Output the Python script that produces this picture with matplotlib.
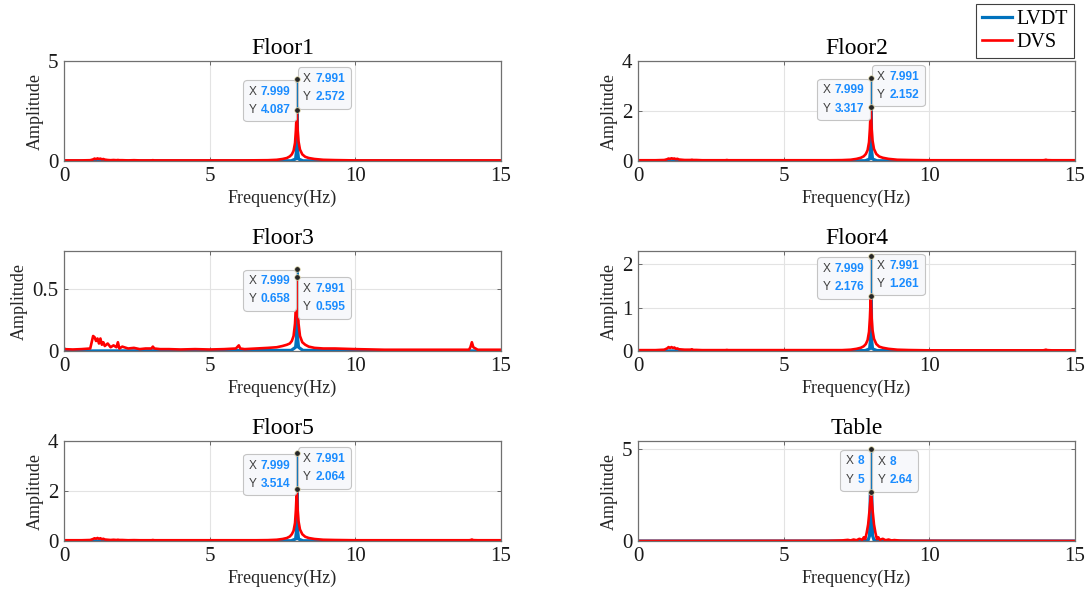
import matplotlib.pyplot as plt
from matplotlib.offsetbox import TextArea, HPacker, VPacker, AnnotationBbox

plt.rcParams['font.family'] = ['Liberation Serif', 'DejaVu Serif']

titles = ['Floor1', 'Floor2', 'Floor3', 'Floor4', 'Floor5', 'Table']
y_top = [5, 4, 0.8, 2.3, 4, 5.43]
y_ticks = [[0, 5], [0, 2, 4], [0, 0.5], [0, 1, 2], [0, 2, 4], [0, 5]]

# DVS spectra of the floors, shared frequency points
dvs_freq = [0.0, 0.3, 0.6, 0.9, 1.0, 1.05, 1.1, 1.15, 1.2, 1.25,
            1.3, 1.35, 1.4, 1.5, 1.6, 1.7, 1.8, 1.85, 1.9, 2.0,
            2.2, 2.4, 2.6, 2.8, 3.0, 3.05, 3.1, 3.3, 3.6, 4.0,
            4.5, 5.0, 5.5, 5.9, 6.0, 6.05, 6.2, 6.6, 7.0, 7.3,
            7.5, 7.65, 7.75, 7.82, 7.88, 7.93, 7.96, 7.991, 8.02, 8.05,
            8.1, 8.18, 8.28, 8.4, 8.6, 8.9, 9.3, 10.0, 11.0, 12.0,
            13.0, 13.9, 13.95, 14.0, 14.05, 14.2, 15.0]

floor1_dvs = [0.03, 0.03, 0.03, 0.04, 0.08, 0.12, 0.09, 0.13, 0.10, 0.12,
              0.08, 0.10, 0.07, 0.05, 0.04, 0.05, 0.04, 0.05, 0.04, 0.04,
              0.03, 0.04, 0.03, 0.03, 0.03, 0.04, 0.03, 0.03, 0.03, 0.03,
              0.03, 0.03, 0.03, 0.03, 0.03, 0.03, 0.03, 0.035, 0.04, 0.06,
              0.10, 0.15, 0.23, 0.33, 0.51, 0.90, 1.54, 2.572, 1.54, 0.98,
              0.57, 0.33, 0.21, 0.15, 0.10, 0.06, 0.045, 0.03, 0.03, 0.03,
              0.03, 0.03, 0.03, 0.03, 0.03, 0.03, 0.03]
floor2_dvs = [0.03, 0.03, 0.03, 0.04, 0.07, 0.10, 0.08, 0.11, 0.09, 0.10,
              0.07, 0.09, 0.06, 0.05, 0.04, 0.04, 0.04, 0.05, 0.04, 0.04,
              0.03, 0.03, 0.03, 0.03, 0.03, 0.04, 0.03, 0.03, 0.03, 0.03,
              0.03, 0.03, 0.03, 0.03, 0.03, 0.03, 0.03, 0.03, 0.035, 0.05,
              0.085, 0.13, 0.19, 0.28, 0.43, 0.75, 1.29, 2.152, 1.29, 0.82,
              0.48, 0.28, 0.18, 0.13, 0.085, 0.05, 0.04, 0.03, 0.03, 0.03,
              0.03, 0.03, 0.035, 0.05, 0.035, 0.03, 0.03]
floor3_dvs = [0.015, 0.012, 0.015, 0.02, 0.12, 0.11, 0.08, 0.10, 0.06, 0.10,
              0.05, 0.07, 0.04, 0.06, 0.03, 0.045, 0.03, 0.07, 0.02, 0.035,
              0.02, 0.025, 0.015, 0.02, 0.02, 0.035, 0.02, 0.015, 0.015, 0.012,
              0.015, 0.012, 0.015, 0.02, 0.045, 0.02, 0.015, 0.02, 0.025, 0.03,
              0.04, 0.05, 0.06, 0.08, 0.12, 0.22, 0.36, 0.595, 0.35, 0.22,
              0.12, 0.07, 0.05, 0.035, 0.025, 0.02, 0.02, 0.015, 0.01, 0.01,
              0.01, 0.01, 0.03, 0.07, 0.03, 0.01, 0.01]
floor4_dvs = [0.02, 0.02, 0.02, 0.03, 0.06, 0.09, 0.07, 0.09, 0.07, 0.08,
              0.05, 0.06, 0.04, 0.035, 0.03, 0.03, 0.03, 0.04, 0.025, 0.025,
              0.02, 0.02, 0.02, 0.02, 0.02, 0.025, 0.02, 0.02, 0.02, 0.02,
              0.02, 0.02, 0.02, 0.02, 0.02, 0.02, 0.02, 0.02, 0.02, 0.03,
              0.05, 0.075, 0.11, 0.16, 0.25, 0.44, 0.76, 1.261, 0.76, 0.48,
              0.28, 0.16, 0.10, 0.075, 0.05, 0.03, 0.022, 0.015, 0.015, 0.015,
              0.015, 0.015, 0.02, 0.03, 0.02, 0.015, 0.015]
floor5_dvs = [0.03, 0.03, 0.03, 0.04, 0.08, 0.11, 0.09, 0.12, 0.09, 0.11,
              0.07, 0.09, 0.06, 0.05, 0.04, 0.05, 0.04, 0.05, 0.04, 0.04,
              0.03, 0.035, 0.03, 0.03, 0.03, 0.04, 0.03, 0.03, 0.03, 0.03,
              0.03, 0.03, 0.03, 0.03, 0.03, 0.03, 0.03, 0.03, 0.035, 0.05,
              0.08, 0.12, 0.18, 0.27, 0.41, 0.72, 1.24, 2.064, 1.24, 0.79,
              0.46, 0.27, 0.17, 0.12, 0.08, 0.05, 0.04, 0.03, 0.03, 0.03,
              0.03, 0.03, 0.035, 0.06, 0.035, 0.03, 0.03]

# LVDT spectra of the floors
lvdt_freq = [0.0, 0.05, 0.15, 7.8, 7.95, 7.98, 7.999, 8.02, 8.05, 8.2, 15.0]
floor1_lvdt = [0.01, 0.005, 0.0, 0.01, 0.1, 0.5, 4.087, 0.5, 0.1, 0.01, 0.0]
floor2_lvdt = [0.01, 0.005, 0.0, 0.01, 0.08, 0.4, 3.317, 0.4, 0.08, 0.01, 0.0]
floor3_lvdt = [0.02, 0.005, 0.0, 0.005, 0.03, 0.1, 0.658, 0.1, 0.03, 0.005, 0.0]
floor4_lvdt = [0.01, 0.005, 0.0, 0.01, 0.05, 0.25, 2.176, 0.25, 0.05, 0.01, 0.0]
floor5_lvdt = [0.01, 0.005, 0.0, 0.01, 0.08, 0.4, 3.514, 0.4, 0.08, 0.01, 0.0]

# shake table
table_dvs_freq = [0.0, 6.5, 7.0, 7.2, 7.3, 7.4, 7.5, 7.6, 7.7, 7.75,
                  7.8, 7.85, 7.9, 7.95, 8.0, 8.05, 8.1, 8.15, 8.2, 8.25,
                  8.3, 8.4, 8.5, 8.6, 8.7, 8.8, 9.0, 9.5, 15.0]
table_dvs = [0.0, 0.01, 0.03, 0.06, 0.03, 0.08, 0.04, 0.12, 0.06, 0.2,
             0.1, 0.45, 0.9, 1.7, 2.64, 1.7, 0.9, 0.45, 0.1, 0.2,
             0.06, 0.12, 0.04, 0.08, 0.03, 0.05, 0.02, 0.01, 0.0]
table_lvdt_freq = [0.0, 7.8, 7.9, 7.95, 8.0, 8.05, 8.1, 8.2, 15.0]
table_lvdt = [0.0, 0.0, 0.05, 0.3, 5.0, 0.3, 0.05, 0.0, 0.0]

# data tips
tip_lvdt_x = [7.999, 7.999, 7.999, 7.999, 7.999, 8]
tip_lvdt_y = [4.087, 3.317, 0.658, 2.176, 3.514, 5]
tip_dvs_x = [7.991, 7.991, 7.991, 7.991, 7.991, 8]
tip_dvs_y = [2.572, 2.152, 0.595, 1.261, 2.064, 2.64]
dvs_tip_below = [False, False, True, False, False, False]

lvdt_series = [(lvdt_freq, floor1_lvdt), (lvdt_freq, floor2_lvdt), (lvdt_freq, floor3_lvdt),
               (lvdt_freq, floor4_lvdt), (lvdt_freq, floor5_lvdt), (table_lvdt_freq, table_lvdt)]
dvs_series = [(dvs_freq, floor1_dvs), (dvs_freq, floor2_dvs), (dvs_freq, floor3_dvs),
              (dvs_freq, floor4_dvs), (dvs_freq, floor5_dvs), (table_dvs_freq, table_dvs)]

BLUE = '#0072BD'
RED = '#FF0000'


def datatip(ax, x, y, to_left, below):
    tp = dict(family='Liberation Sans', fontsize=8.6)
    rows = []
    for k, v in (('X', x), ('Y', y)):
        rows.append(HPacker(children=[TextArea(k, textprops=dict(color='#404040', **tp)),
                                      TextArea(f'{v:g}', textprops=dict(color='#1a8cff', fontweight='bold', **tp))],
                            pad=0, sep=3, align='baseline'))
    box = VPacker(children=rows, pad=0, sep=4.5, align='left')
    off = 4.6
    ab = AnnotationBbox(box, (x, y), xybox=(-off if to_left else off, -off if below else off),
                        xycoords='data', boxcoords='offset points',
                        box_alignment=(1 if to_left else 0, 1 if below else 0),
                        frameon=True, fontsize=10, annotation_clip=False, zorder=10,
                        bboxprops=dict(boxstyle='round,pad=0.4,rounding_size=0.25',
                                       fc='#f7f8fb', ec='#c4c4c4', lw=0.8))
    ax.add_artist(ab)
    ax.plot(x, y, 'o', ms=4, mfc='#262626', mec='#e8e0b0', mew=0.5, zorder=11, clip_on=False)


W, H = 1091, 602
fig = plt.figure(figsize=(W / 100, H / 100), dpi=100)
lefts = [64, 638]
tops = [61, 251, 441]
handles = None

for i in range(6):
    col, row = i % 2, i // 2
    ax = fig.add_axes([lefts[col] / W, 1 - (tops[row] + 100) / H, 437 / W, 100 / H])
    fl, al = lvdt_series[i]
    fd, ad = dvs_series[i]
    l1, = ax.plot(fl, al, color=BLUE, lw=2.3, label='LVDT')
    l2, = ax.plot(fd, ad, color=RED, lw=1.9, label='DVS')
    if handles is None:
        handles = [l1, l2]

    ax.set_xlim(0, 15)
    ax.set_ylim(0, y_top[i])
    ax.set_xticks([0, 5, 10, 15])
    ax.set_yticks(y_ticks[i], labels=[f'{t:g}' for t in y_ticks[i]])
    ax.grid(True, color='#e3e3e3', lw=0.8)
    ax.set_axisbelow(True)
    ax.tick_params(direction='in', length=3, width=0.6, top=True, right=True,
                   labelsize=15, pad=4, color='#555555', labelcolor='#1a1a1a')
    for s in ax.spines.values():
        s.set_color('#707070')
        s.set_linewidth(0.9)
    ax.set_title(titles[i], fontsize=17, pad=5)
    ax.set_xlabel('Frequency(Hz)', fontsize=13, color='#262626', labelpad=3)
    ax.set_ylabel('Amplitude', fontsize=13, color='#262626', labelpad=3)

    datatip(ax, tip_lvdt_x[i], tip_lvdt_y[i], True, True)
    datatip(ax, tip_dvs_x[i], tip_dvs_y[i], False, dvs_tip_below[i])

leg = fig.legend(handles, ['LVDT', 'DVS'], loc='upper right', bbox_to_anchor=(1074 / W, 1 - 4 / H),
                 fontsize=14.5, frameon=True, fancybox=False, edgecolor='#404040', framealpha=1,
                 handlelength=1.5, handletextpad=0.2, borderpad=0.3, labelspacing=0.2, borderaxespad=0)
leg.get_frame().set_linewidth(0.8)

fig.savefig('out.png', dpi=100)
